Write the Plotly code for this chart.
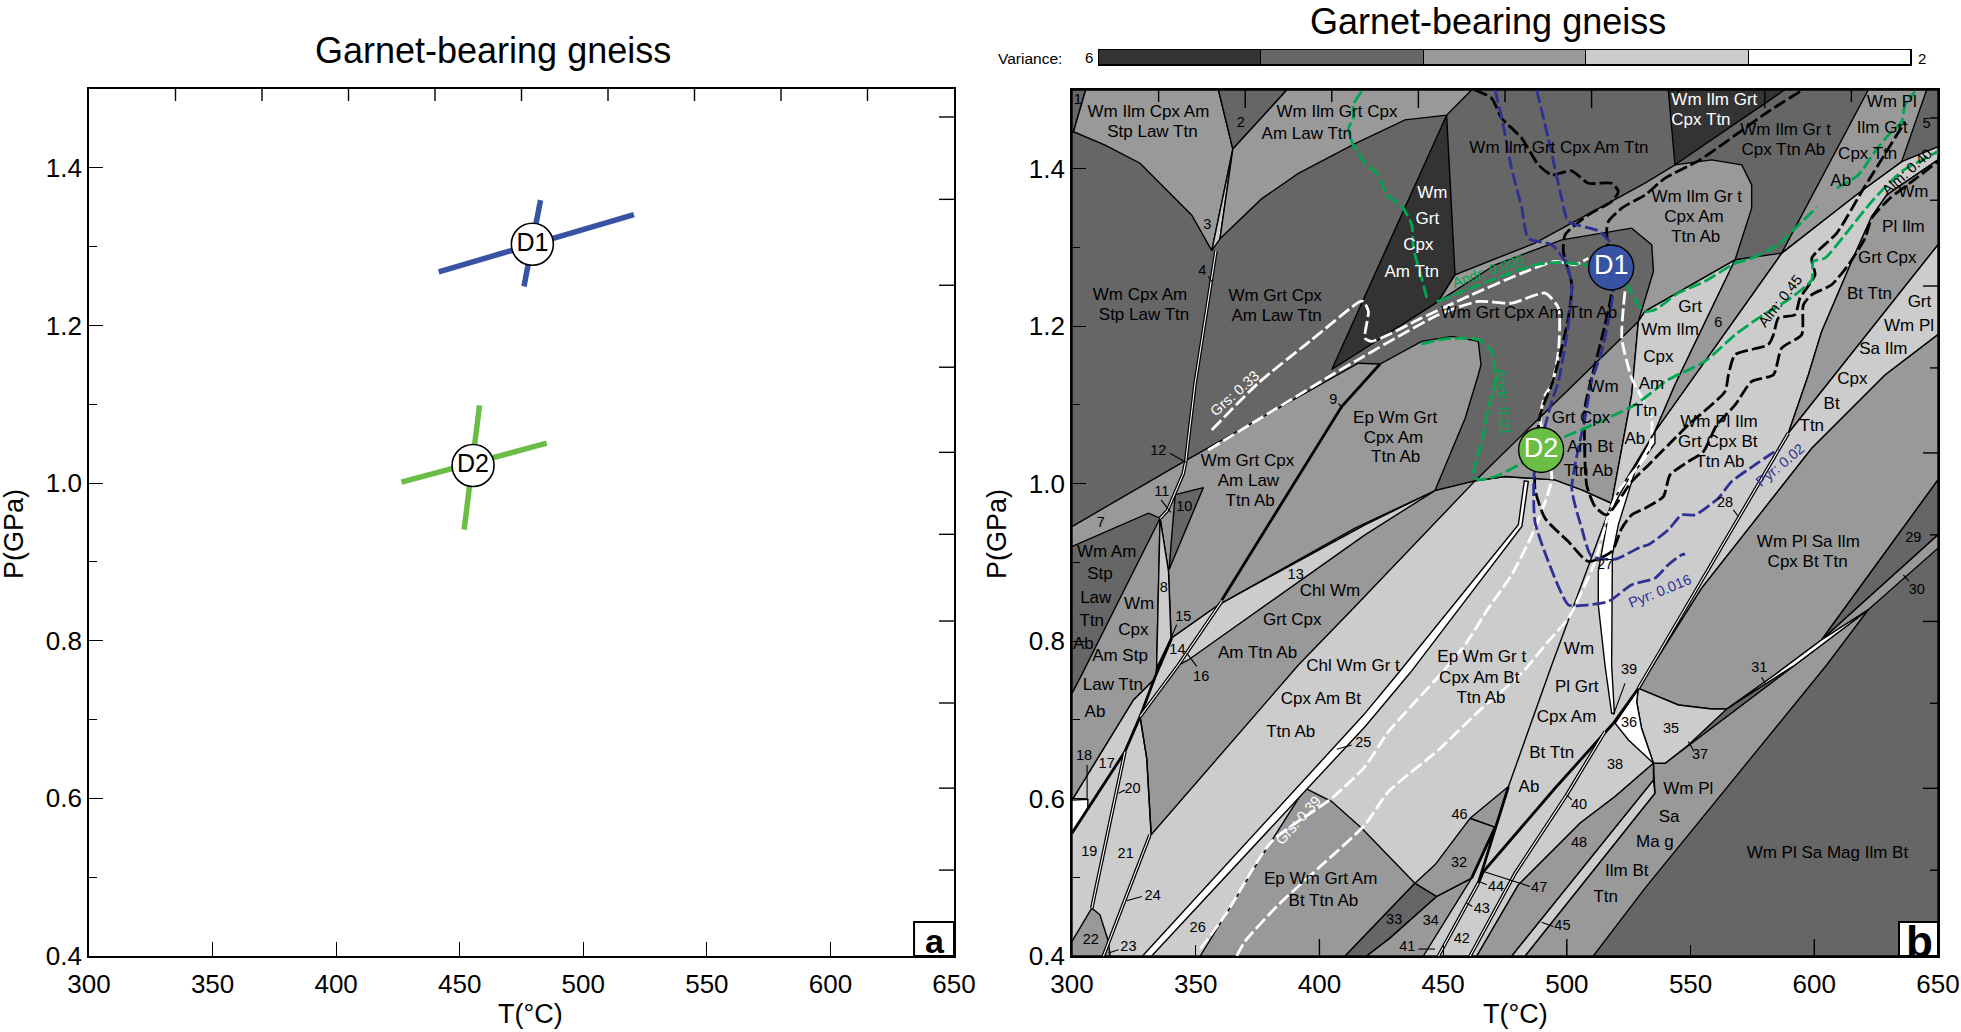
import plotly.graph_objects as go

W, H = 1961, 1032
FONT = "Liberation Sans"
C2, C3, C4, C5, C6 = "#ffffff", "#cccccc", "#999999", "#666666", "#333333"
BLUE, GREEN = "#3953a4", "#6abd45"
DBLUE, DGREEN = "#2e3192", "#00a651"

# ---------- panel a: error crosses ----------
d1_h_T = [441.5, 520.5]; d1_h_P = [1.268, 1.3406]
d1_v_T = [476.0, 482.7]; d1_v_P = [1.2496, 1.359]
d2_h_T = [426.4, 485.2]; d2_h_P = [1.0012, 1.0506]
d2_v_T = [451.8, 458.0]; d2_v_P = [0.941, 1.0985]
peak_names = ["D1", "D2"]
peak_a_T = [479.4, 455.4]; peak_a_P = [1.303, 1.0223]
peak_b_T = [517.9, 489.6]; peak_b_P = [1.2746, 1.0428]

# ---------- variance bar ----------
variance = [6, 5, 4, 3, 2]
variance_colors = [C6, C5, C4, C3, C2]

# ---------- panel b: stability fields ----------
base_T = [300, 650, 650, 300]; base_P = [0.4, 0.4, 1.5, 1.5]
mass_T = [300, 324.8, 333.6, 334.2, 340, 359.2, 418.4, 446.7, 462.9, 475, 495.2, 506, 518.1, 535, 549.1, 586.8, 617.8, 635.3, 650, 650, 629.3, 623.2, 615.1, 603, 597.6, 589.5, 528.9, 535, 519.5, 505.3, 480.4, 463.6, 300]
mass_P = [0.598, 0.7252, 0.7527, 0.7658, 0.8038, 0.8461, 0.9477, 0.9912, 1.0035, 1.009, 1.0048, 0.992, 0.9751, 1.064, 1.1257, 1.2928, 1.3689, 1.409, 1.428, 1.4112, 1.3668, 1.3393, 1.2822, 1.1934, 1.138, 1.064, 0.74, 0.6448, 0.6025, 0.5687, 0.4904, 0.4, 0.4]
f1_T = [300, 305.5, 300.6, 300]; f1_P = [1.5, 1.5, 1.447, 1.447]
wicast_T = [305.5, 359.2, 365, 356.5, 348.4, 339, 327.5, 313.4, 300.6]
wicast_P = [1.5, 1.5, 1.425, 1.296, 1.341, 1.371, 1.407, 1.43, 1.447]
f2_T = [359.2, 386.8, 365]; f2_P = [1.5, 1.5, 1.425]
f3_T = [365, 359.8, 356.5]; f3_P = [1.425, 1.311, 1.296]
wigcal_T = [365, 386.8, 461.5, 451.4, 434.6, 414.4, 391.5, 376.7, 359.8]
wigcal_P = [1.425, 1.5, 1.5, 1.468, 1.462, 1.432, 1.394, 1.362, 1.311]
dark_T = [451.4, 454.8, 448.1, 414.4, 405]
dark_P = [1.468, 1.2653, 1.2315, 1.164, 1.145]
darktop_T = [541, 588, 543.7]; darktop_P = [1.5, 1.5, 1.4049]
lobe_T = [448.1, 454.8, 487.1, 531.6, 543.7, 558.5, 570.7, 574.7, 574.7, 568, 531.6, 528.9, 535, 534.3, 526.2, 497.9, 471]
lobe_P = [1.2315, 1.2653, 1.3055, 1.3816, 1.4049, 1.4112, 1.4049, 1.3795, 1.35, 1.2843, 1.2188, 1.2061, 1.2695, 1.3034, 1.3245, 1.3097, 1.278]
wgmid_T = [462.9, 528.9, 526.2, 518.1, 506, 495.2, 475]
wgmid_P = [1.0035, 1.2061, 1.1126, 0.9751, 0.992, 1.0048, 1.009]
gwi_T = [568, 543.7, 535.6, 518.1, 526.2, 528.9, 531.6]
gwi_P = [1.2843, 1.1257, 1.0661, 0.9751, 1.1126, 1.2061, 1.2188]
f6_T = [568, 586.8, 549.1, 535.6, 543.7]; f6_P = [1.2843, 1.2928, 1.1257, 1.0661, 1.1257]
wmpl_T = [621.8, 645.4, 635.3, 617.8, 586.8]; wmpl_P = [1.5, 1.5, 1.409, 1.3689, 1.2928]
rb_T = [629.3, 650, 650, 605, 589.5, 597.6, 603, 615.1, 623.2]
rb_P = [1.3668, 1.4112, 1.3034, 1.1257, 1.064, 1.138, 1.1934, 1.2822, 1.3393]
gwps_T = [650, 650, 628.6, 599, 554.5, 528.9, 589.5, 605]
gwps_P = [1.3034, 1.1892, 1.138, 1.0449, 0.8673, 0.74, 1.064, 1.1257]
wpsi_T = [650, 628.6, 599, 554.5, 528.9, 545.1, 558.5, 564.6, 584.1, 603, 650]
wpsi_P = [1.1892, 1.138, 1.0449, 0.8673, 0.74, 0.7188, 0.7138, 0.7138, 0.7573, 0.8017, 1.0048]
f29_T = [650, 650, 603]; f29_P = [1.0048, 0.935, 0.8017]
f30_T = [650, 650, 621.8, 603]; f30_P = [0.935, 0.918, 0.8398, 0.8017]
wpsm_T = [535, 535.6, 483.1, 510.7, 531.6, 605, 621.8, 592.2, 549.1, 539.7]
wpsm_P = [0.6448, 0.6067, 0.4, 0.4, 0.4862, 0.7696, 0.8398, 0.7696, 0.6681, 0.6448]
f45_T = [535, 535.6, 483.1, 477.7]; f45_P = [0.6237, 0.6067, 0.4, 0.4]
f48_T = [535, 535, 477.7, 463.6, 480.4, 505.3, 519.5]
f48_P = [0.6448, 0.6237, 0.4, 0.4, 0.4904, 0.5687, 0.6025]
f35_T = [528.9, 545.1, 558.5, 564.6, 549.1, 539.7, 535, 530.2, 528.2]
f35_P = [0.74, 0.7188, 0.7138, 0.7138, 0.6681, 0.6448, 0.6448, 0.6892, 0.723]
f36_T = [528.9, 528.2, 530.2, 535, 524.9, 519.5]
f36_P = [0.74, 0.723, 0.6892, 0.6448, 0.6744, 0.6956]
f31_T = [603, 621.8, 592.2, 564.6, 584.1]; f31_P = [0.8017, 0.8398, 0.7696, 0.7138, 0.7573]
f27_T = [535.6, 529.6, 516.8, 512.7, 512.7, 515.4, 518.1, 519.2, 518.1, 518.4, 520.8, 527.5, 535.6]
f27_P = [1.0661, 1.0323, 0.9603, 0.8884, 0.8461, 0.7696, 0.7083, 0.7083, 0.7696, 0.9096, 0.9477, 1.0153, 1.0513]
ewg_T = [300, 345.7, 415.7, 424.5, 441.3, 453.5, 464.2, 465.3, 464.2, 458.9, 446.7, 414.4, 359.2, 340.1, 339, 335.6, 330.9, 300]
ewg_P = [0.9455, 1.029, 1.153, 1.1519, 1.1807, 1.187, 1.1807, 1.1511, 1.138, 1.083, 0.9912, 0.9434, 0.8461, 0.8038, 0.8884, 0.9561, 0.9625, 0.9202]
wcas_T = [335.6, 334.2, 333.6, 324.8, 300, 300, 303.9]
wcas_P = [0.9561, 0.7658, 0.7527, 0.7252, 0.598, 0.7336, 0.757]
f8_T = [335.6, 339, 340, 334.2]; f8_P = [0.9561, 0.8884, 0.8038, 0.7658]
f10_T = [341.7, 353.1, 339.2]; f10_P = [0.986, 0.995, 0.8905]
f18_T = [300, 306.4, 306.4, 300]; f18_P = [0.598, 0.5991, 0.5877, 0.556]
f22_T = [308, 311.3, 314.7, 315.4, 300, 300]; f22_P = [0.4608, 0.4523, 0.4185, 0.4, 0.4, 0.4185]
band_T = [446.7, 462.9, 414.4, 391.5, 332, 330.2, 327.5, 343, 347, 418.4]
band_P = [0.9912, 1.0035, 0.844, 0.7696, 0.554, 0.6512, 0.704, 0.7696, 0.776, 0.935]
ewga_T = [394.2, 405, 417.1, 438.6, 410.4, 351.8, 364.6, 375.3]
ewga_P = [0.6131, 0.5962, 0.5623, 0.4925, 0.4, 0.4, 0.4651, 0.52]
f33_T = [438.6, 447.4, 428.5, 419.1, 410.4]; f33_P = [0.4925, 0.4756, 0.4227, 0.4, 0.4]
f34_T = [447.4, 461.5, 442, 419.1, 428.5]; f34_P = [0.4756, 0.4989, 0.4, 0.4, 0.4227]
f32_T = [438.6, 446.7, 460.9, 471, 461.5, 447.4]; f32_P = [0.4925, 0.5158, 0.575, 0.5636, 0.4989, 0.4756]
f46_T = [460.9, 476.4, 471]; f46_P = [0.575, 0.6152, 0.5636]
f25_T = [328.5, 417.8, 431.9, 480.4, 482.8, 484.4, 481.8, 436.6, 418.4, 332.2]
f25_P = [0.4, 0.706, 0.7594, 0.9477, 1.0035, 1.0026, 0.9455, 0.7594, 0.6913, 0.4]

# ---------- panel b: reaction lines ----------
line_a_T = [518.1, 493.9, 476.4]; line_a_P = [0.9751, 0.7696, 0.6152]
line_b_T = [327.5, 330.2, 332]; line_b_P = [0.704, 0.6512, 0.5539]
thick1_T = [300, 321.4, 327.5, 333.6, 340.3]; thick1_P = [0.556, 0.6596, 0.704, 0.7548, 0.8038]
thick2_T = [424.5, 409, 360.5]; thick2_P = [1.1519, 1.098, 0.852]
thick3_T = [528.9, 518.8, 495.2, 466.3, 464.2]; thick3_P = [0.74, 0.6956, 0.6131, 0.5073, 0.4925]
thick4_T = [476.4, 464.2]; thick4_P = [0.6152, 0.4925]
thick5_T = [471, 461.5]; thick5_P = [0.5636, 0.4989]
dbl1_T = [331.5, 312.7]; dbl1_P = [0.5539, 0.4]
dbl2_T = [321.4, 318.1, 313.4, 308]; dbl2_P = [0.6596, 0.6089, 0.5412, 0.4608]
dbl3_T = [515.4, 499.9, 479.1, 460.9]; dbl3_P = [0.685, 0.6046, 0.5052, 0.4]
dbl4_T = [589.5, 528.9]; dbl4_P = [1.064, 0.74]
dbl5_T = [360.5, 343, 327.5]; dbl5_P = [0.8504, 0.7696, 0.704]
dbl6_T = [464.2, 448.1]; dbl6_P = [0.4925, 0.4]
dbl7_T = [346, 345, 338.6, 335.6]; dbl7_P = [1.029, 1.013, 0.966, 0.956]
dbl8_T = [358.2, 349.7, 346]; dbl8_P = [1.296, 1.126, 1.029]
leader_T = [355.1, 356.5, None, 339.6, 346, None, 336, 340, None, 407.7, 409.3, None, 342.3, 340, None, 346.4, 350.4, None, 306.1, 306.1, None, 321.4, 318.8, None, 318.8, 314.7, None, 328.2, 322.1, None, 413, 407, None, 567.3, 569.3, None, 636, 638.3, None, 578.7, 580.4, None, 549.1, 551.1, None, 499.9, 502, None, 440, 446.7, None, 459.5, 461.8, None, 464.5, 467.6, None, 489.8, 494.5, None, 466.3, 485.1, None, 523.5, 518.8]
leader_P = [1.2632, 1.2568, None, 1.0386, 1.0272, None, 0.9794, 0.9633, None, 1.102, 1.0957, None, 0.8208, 0.8038, None, 0.7848, 0.7679, None, 0.6427, 0.5991, None, 0.611, 0.6067, None, 0.408, 0.4037, None, 0.4756, 0.4701, None, 0.6681, 0.6626, None, 0.9667, 0.9582, None, 0.8842, 0.8757, None, 0.754, 0.7451, None, 0.6723, 0.6617, None, 0.6046, 0.5983, None, 0.4088, 0.4088, None, 0.4672, 0.4629, None, 0.4946, 0.4904, None, 0.443, 0.4375, None, 0.5073, 0.4883, None, 0.7463, 0.7061]

# ---------- panel b: isopleths ----------
g_up_T = [417, 413.7, 413.7, 411.7, 413.7, 418.4, 423.8, 427.2, 433.3, 437.3, 438, 441.3, 443.4]
g_up_P = [1.498, 1.481, 1.464, 1.451, 1.43, 1.407, 1.392, 1.367, 1.352, 1.329, 1.299, 1.261, 1.236]
g_an_T = [447.4, 468.3, 487.1, 496.6, 507.3, 518.1, 524.2, 528.9, 531.6, 535.6, 545, 555.8, 568, 574.7, 585.5, 590.9, 601]
g_an_P = [1.231, 1.257, 1.278, 1.281, 1.278, 1.276, 1.2526, 1.2272, 1.2188, 1.2209, 1.242, 1.257, 1.28, 1.2864, 1.3034, 1.32, 1.351]
g_alm_T = [441.3, 450.8, 464.2, 469.6, 471, 468.3, 465.6, 462.2, 464.2, 471, 481.8, 489.6, 497.9, 508.7, 527.5, 535.6, 539.7, 555.8, 568, 577.4, 589.5, 599, 599.6, 604.3, 612.4, 623.2, 635.3, 650]
g_alm_P = [1.1773, 1.184, 1.1828, 1.168, 1.13, 1.0957, 1.0534, 1.0111, 1.0048, 1.009, 1.0259, 1.0428, 1.0576, 1.0724, 1.0999, 1.119, 1.1299, 1.1553, 1.1891, 1.2103, 1.2336, 1.2589, 1.2822, 1.2864, 1.316, 1.3583, 1.3964, 1.4218]
g_ab_T = [609.1, 617.8, 624.5, 630, 635.3, 636.7, 640.7]
g_ab_P = [1.3753, 1.3922, 1.4218, 1.443, 1.4599, 1.481, 1.498]
w_33_T = [356.5, 375.3, 396.9, 416.4, 417.8, 419.8, 418.4, 421.1, 441.3, 461.5, 481.8, 495.2, 503.3, 508.7]
w_33_P = [1.0682, 1.1278, 1.1828, 1.2314, 1.2315, 1.2188, 1.1849, 1.1807, 1.2103, 1.2399, 1.2674, 1.2822, 1.278, 1.2864]
w_39_T = [355.1, 405, 414.4, 448.1, 464.2, 477.7, 491.2, 496.6, 496.6, 493.9, 491.2, 489.2, 493.9, 486.5, 477.7, 468.3, 458.9, 448.8, 427.9, 418.4, 405, 380.7, 362, 351.1]
w_39_P = [1.0428, 1.138, 1.1553, 1.2145, 1.2314, 1.2293, 1.242, 1.223, 1.168, 1.1257, 1.1126, 1.083, 1.0069, 0.9392, 0.8842, 0.8419, 0.7954, 0.7573, 0.685, 0.6406, 0.6004, 0.5454, 0.4523, 0.4058]
w_lo_T = [523.5, 522.2, 526.2, 534.3, 532.9, 520.8, 516.8, 511.4, 500.6, 492.5, 481.8, 464.2, 448.1, 427.9, 418.4, 399.6, 383.4, 369.9, 366.6]
w_lo_P = [1.2441, 1.185, 1.134, 1.083, 1.0407, 0.99, 0.9603, 0.9011, 0.8292, 0.7996, 0.7594, 0.7104, 0.6617, 0.6089, 0.5666, 0.5116, 0.465, 0.4185, 0.4]
k_up_T = [462.9, 469.6, 473.7, 481.8, 488.5, 493.9, 501.9, 508.7, 518.1, 520.8, 518.1, 508.7, 499.3, 498.6, 502, 500.6, 496.6, 493.9, 489.2, 487.1, 491.2, 500.6, 508.7, 518.1, 522.2, 526.2, 531.6, 539, 541.7, 549.1, 555.2, 560.6, 568, 574.7, 583.5, 586.8, 594.9, 595.6, 599, 607, 613.8, 620.5, 623.2, 630.6, 639.4, 650]
k_up_P = [1.5, 1.4895, 1.4641, 1.4387, 1.4049, 1.3922, 1.3973, 1.3816, 1.3816, 1.371, 1.3584, 1.3414, 1.316, 1.2949, 1.2526, 1.2103, 1.1553, 1.1257, 1.0872, 0.9942, 0.9561, 0.9265, 0.9011, 0.9138, 0.9434, 0.9603, 0.9688, 0.9836, 1.0111, 1.028, 1.0407, 1.0746, 1.0999, 1.1299, 1.1384, 1.1722, 1.1891, 1.2272, 1.24, 1.2526, 1.278, 1.3118, 1.3372, 1.3626, 1.3837, 1.4091]
k_lo_T = [594.2, 581.4, 553.8, 539.7, 531.6, 522.2, 516.8, 516.1, 518.1, 514.1, 510, 507.3, 508, 511.4, 516.1, 526.2, 533, 541, 549.1, 563.9, 565.3, 568, 581.4, 583.5, 585.5, 592.2, 594.2, 600.3, 599, 609.1, 619.2, 636.7]
k_lo_P = [1.498, 1.4726, 1.4112, 1.388, 1.3668, 1.35, 1.333, 1.3224, 1.2441, 1.1849, 1.1342, 1.0957, 0.9984, 0.9709, 0.9603, 1.0026, 1.0238, 1.0492, 1.0746, 1.1169, 1.138, 1.1638, 1.1765, 1.1891, 1.2103, 1.2145, 1.2357, 1.2653, 1.2864, 1.3182, 1.371, 1.4599]
b_016_T = [471, 473.7, 477.7, 481.8, 484.4, 493.9, 499.3, 502, 500.6, 496.6, 493.9, 486.9, 487.1, 492.5, 500.6, 506, 516.8, 526.2, 535.6, 541, 546.4, 547.8]
b_016_P = [1.5, 1.4641, 1.4, 1.3499, 1.3118, 1.3034, 1.2822, 1.2526, 1.2018, 1.13, 1.1042, 1.0153, 0.9519, 0.9011, 0.8461, 0.8453, 0.8504, 0.8715, 0.88, 0.8969, 0.9096, 0.9104]
b_02_T = [487.8, 492.5, 497.9, 500.6, 512.7, 518.1, 518.8, 514.1, 510, 507.3, 502, 506, 510, 519.5, 530.2, 532.9, 541, 546.4, 551.8, 561.2, 566.6, 576, 585.5]
b_02_P = [1.5, 1.4387, 1.3626, 1.333, 1.3211, 1.3034, 1.2441, 1.168, 1.13, 1.083, 0.9942, 0.9434, 0.9075, 0.9041, 0.9202, 0.9223, 0.9413, 0.9603, 0.9603, 0.9815, 1.0026, 1.0238, 1.0441]

# ---------- text ----------
black_labels = ["Wm Ilm Cpx Am", "Stp Law Ttn", "Wm Ilm Grt Cpx", "Am Law Ttn", "Wm Cpx Am", "Stp Law Ttn", "Wm Grt Cpx", "Am Law Ttn", "Wm Ilm Grt Cpx Am Ttn", "Wm Grt Cpx Am Ttn Ab", "Wm Ilm Gr t", "Cpx Ttn Ab", "Wm Ilm Gr t", "Cpx Am", "Ttn Ab", "Wm Pl", "Ilm Grt", "Cpx Ttn", "Ab", "Wm", "Pl Ilm", "Grt Cpx", "Bt Ttn", "Grt", "Wm Pl", "Sa Ilm", "Cpx", "Bt", "Ttn", "Grt", "Wm Ilm", "Cpx", "Am", "Ttn", "Ab", "Wm", "Grt Cpx", "Am Bt", "Ttn Ab", "Ep Wm Grt", "Cpx Am", "Ttn Ab", "Wm Grt Cpx", "Am Law", "Ttn Ab", "Wm Am", "Stp", "Law", "Ttn", "Ab", "Wm", "Cpx", "Am Stp", "Law Ttn", "Ab", "Chl Wm", "Grt Cpx", "Am Ttn Ab", "Chl Wm Gr t", "Cpx Am Bt", "Ttn Ab", "Ep Wm Gr t", "Cpx Am Bt", "Ttn Ab", "Wm", "Pl Grt", "Cpx Am", "Bt Ttn", "Ab", "Wm Pl Ilm", "Grt Cpx Bt", "Ttn Ab", "Wm Pl Sa Ilm", "Cpx Bt Ttn", "Wm Pl Sa Mag Ilm Bt", "Wm Pl", "Sa", "Ma g", "Ilm Bt", "Ttn", "Ep Wm Grt Am", "Bt Ttn Ab"]
black_T = [330.9, 332.5, 407.1, 394.9, 327.5, 329.1, 382.1, 382.7, 496.8, 484.7, 588.4, 587.5, 552.5, 551.4, 552.1, 631.3, 627.5, 621.6, 610.7, 640, 636, 629.5, 622.3, 642.5, 638.3, 627.9, 615.4, 607, 599, 549.8, 541.7, 537, 534.2, 531.6, 527.5, 514.8, 505.7, 509.4, 508.7, 430.6, 429.9, 430.8, 370.9, 371.3, 372, 314, 311.3, 309.6, 308, 304.6, 327.1, 324.8, 319.4, 316.5, 309.3, 404.3, 389, 375, 413.6, 400.6, 388.4, 465.6, 464.6, 465.3, 504.9, 504, 499.9, 493.9, 484.7, 561.5, 561, 561.9, 597.6, 597.3, 605.3, 549.1, 541.3, 535.6, 524.2, 515.7, 400.5, 401.6]
black_P = [1.4717, 1.4459, 1.4717, 1.443, 1.239, 1.2137, 1.2378, 1.2116, 1.426, 1.2154, 1.448, 1.4226, 1.3626, 1.3372, 1.3118, 1.4844, 1.4506, 1.4176, 1.3837, 1.3689, 1.3254, 1.2856, 1.2399, 1.2293, 1.1989, 1.1701, 1.1317, 1.1008, 1.0724, 1.223, 1.1942, 1.1604, 1.1253, 1.0915, 1.0555, 1.1219, 1.083, 1.0462, 1.0145, 1.083, 1.0576, 1.0323, 1.028, 1.0026, 0.9773, 0.9117, 0.8842, 0.8537, 0.8241, 0.7954, 0.8461, 0.8136, 0.7797, 0.7434, 0.7091, 0.8622, 0.8258, 0.7835, 0.768, 0.726, 0.6837, 0.7785, 0.7527, 0.7273, 0.789, 0.7413, 0.7028, 0.6575, 0.6139, 1.0779, 1.0521, 1.0268, 0.9244, 0.899, 0.5293, 0.611, 0.5759, 0.5433, 0.5073, 0.4735, 0.4968, 0.4693]
white_labels = ["Wm", "Grt", "Cpx", "Am Ttn", "Wm Ilm Grt", "Cpx Ttn"]
white_T = [445.6, 443.6, 440, 437.3, 559.6, 554.2]
white_P = [1.3677, 1.335, 1.3025, 1.2674, 1.4865, 1.4611]
num_labels = ["1", "2", "3", "4", "5", "6", "7", "8", "9", "10", "11", "12", "13", "14", "15", "16", "17", "18", "19", "20", "21", "22", "23", "24", "25", "26", "27", "28", "29", "30", "31", "32", "33", "34", "35", "36", "37", "38", "39", "40", "41", "42", "43", "44", "45", "46", "47", "48"]
num_T = [302.3, 368.2, 354.7, 352.7, 645.4, 561.2, 311.6, 337.1, 405.6, 345.4, 336.3, 334.9, 390.4, 342.6, 345, 352.2, 314, 304.9, 307, 324.5, 321.7, 307.6, 322.8, 332.6, 417.7, 350.8, 515.4, 563.9, 640, 641.4, 577.8, 456.4, 430.2, 445, 542.1, 525.1, 553.8, 519.5, 525.1, 504.9, 435.5, 457.5, 465.6, 471.4, 498.2, 456.6, 488.8, 504.9]
num_P = [1.4874, 1.4578, 1.3279, 1.2695, 1.4565, 1.204, 0.9498, 0.8673, 1.1063, 0.9696, 0.9887, 1.0416, 0.8834, 0.7882, 0.8301, 0.7535, 0.6435, 0.6533, 0.5314, 0.6122, 0.5285, 0.4198, 0.4109, 0.4756, 0.6698, 0.4354, 0.8956, 0.9751, 0.9307, 0.8643, 0.7649, 0.5175, 0.4452, 0.4439, 0.688, 0.6956, 0.6554, 0.6427, 0.7633, 0.5911, 0.4109, 0.4206, 0.4587, 0.4875, 0.4375, 0.5792, 0.4853, 0.5433]
iso_labels = ["Grs: 0.33", "Andr: 0.005", "Andr: 0.01", "Grs: 0.39", "Alm: 0.45", "Alm: 0.40", "Pyr: 0.02", "Pyr: 0.016"]
iso_T = [365.9, 468.3, 474.3, 391.5, 586.2, 637.3, 586.2, 537.7]
iso_P = [1.1147, 1.2695, 1.104, 0.573, 1.2314, 1.3964, 1.0238, 0.863]
iso_angle = [-42, -19, 85, -48, -52, -42, -40, -22]
iso_color = ["#ffffff", DGREEN, DGREEN, "#ffffff", "#000000", "#000000", DBLUE, DBLUE]

# ---------- ticks ----------
xlabels = [300, 350, 400, 450, 500, 550, 600, 650]
ylabels = [0.4, 0.6, 0.8, 1.0, 1.2, 1.4]
top_short = [335, 405, 475, 545, 615]
top_long = [370, 440, 510, 580]
right_short = [1.4645, 1.36, 1.147, 0.935, 0.721, 0.509]
right_long = [1.251, 1.039, 0.825, 0.613]
bottom_long = [400, 500, 600]

TPX = 350 / 866
PPX = 1.1 / 866


def xdom(a, b):
    return [a / W, b / W]


def ydom(top, bot):
    return [1 - bot / H, 1 - top / H]


fig = go.Figure()


def poly(T, P, color, lw=1.4):
    fig.add_trace(go.Scatter(x=T + T[:1], y=P + P[:1], mode="lines", fill="toself", fillcolor=color,
                             line=dict(color="#000000", width=lw), xaxis="x2", yaxis="y2",
                             hoverinfo="skip", showlegend=False))


def line(T, P, color="#000000", lw=1.4, dash=None, spline=False, ax=2):
    ln = dict(color=color, width=lw)
    if dash:
        ln["dash"] = dash
    if spline:
        ln["shape"] = "spline"
        ln["smoothing"] = 0.6
    fig.add_trace(go.Scatter(x=T, y=P, mode="lines", line=ln, xaxis="x%d" % ax if ax > 1 else "x",
                             yaxis="y%d" % ax if ax > 1 else "y", hoverinfo="skip", showlegend=False,
                             connectgaps=False))


def ticks(ax, top_s, top_l, r_s, r_l, ts, tl, rs, rl):
    tx, ty = [], []
    for v, n in [(v, ts) for v in top_s] + [(v, tl) for v in top_l]:
        tx += [v, v, None]
        ty += [1.5, 1.5 - n * PPX, None]
    for v, n in [(v, rs) for v in r_s] + [(v, rl) for v in r_l]:
        tx += [650, 650 - n * TPX, None]
        ty += [v, v, None]
    line(tx, ty, lw=1.4, ax=ax)


# ----- panel a
line(d1_h_T, d1_h_P, BLUE, 5.5, ax=1)
line(d1_v_T, d1_v_P, BLUE, 5.5, ax=1)
line(d2_h_T, d2_h_P, GREEN, 5.5, ax=1)
line(d2_v_T, d2_v_P, GREEN, 5.5, ax=1)
ticks(1, top_short + top_long, [], right_short + right_long, [], 12, 12, 15, 15)
fig.add_trace(go.Scatter(x=peak_a_T, y=peak_a_P, mode="markers+text", text=peak_names, textposition="middle center",
                         marker=dict(size=42, color="#ffffff", line=dict(color="#000000", width=1.6)),
                         textfont=dict(family=FONT, size=25, color="#000000"), xaxis="x", yaxis="y",
                         hoverinfo="skip", showlegend=False))

# ----- panel b fields
poly(base_T, base_P, C5)
for T, P, c in [
    (mass_T, mass_P, C3), (f1_T, f1_P, C5), (wicast_T, wicast_P, C4), (f2_T, f2_P, C5), (f3_T, f3_P, C3),
    (wigcal_T, wigcal_P, C4), (dark_T, dark_P, C6), (darktop_T, darktop_P, C6), (lobe_T, lobe_P, C4),
    (wgmid_T, wgmid_P, C4), (gwi_T, gwi_P, C3), (f6_T, f6_P, C4), (wmpl_T, wmpl_P, C4), (rb_T, rb_P, C4),
    (gwps_T, gwps_P, C3), (wpsi_T, wpsi_P, C4), (f29_T, f29_P, C5), (f30_T, f30_P, C4), (wpsm_T, wpsm_P, C4),
    (f45_T, f45_P, C3), (f48_T, f48_P, C4), (f35_T, f35_P, C3), (f36_T, f36_P, C2), (f31_T, f31_P, C2),
    (f27_T, f27_P, C2), (ewg_T, ewg_P, C4), (wcas_T, wcas_P, C4), (f8_T, f8_P, C3), (f10_T, f10_P, C5),
    (f18_T, f18_P, C2), (f22_T, f22_P, C4), (band_T, band_P, C4), (ewga_T, ewga_P, C4), (f33_T, f33_P, C5),
    (f34_T, f34_P, C4), (f32_T, f32_P, C4), (f46_T, f46_P, C4), (f25_T, f25_P, C2),
]:
    poly(T, P, c)

for T, P in [(line_a_T, line_a_P), (line_b_T, line_b_P)]:
    line(T, P)
for T, P in [(thick1_T, thick1_P), (thick2_T, thick2_P), (thick3_T, thick3_P), (thick4_T, thick4_P), (thick5_T, thick5_P)]:
    line(T, P, lw=2.8)
for T, P in [(dbl1_T, dbl1_P), (dbl2_T, dbl2_P), (dbl3_T, dbl3_P), (dbl4_T, dbl4_P), (dbl5_T, dbl5_P),
             (dbl6_T, dbl6_P), (dbl7_T, dbl7_P), (dbl8_T, dbl8_P)]:
    line(T, P, lw=3.6)
    line(T, P, color=C2, lw=1.1)
line(leader_T, leader_P, lw=1.1)

# ----- isopleths
DASH = "13px,4px"
for T, P in [(w_33_T, w_33_P), (w_39_T, w_39_P), (w_lo_T, w_lo_P)]:
    line(T, P, "#ffffff", 2.8, DASH, True)
for T, P in [(k_up_T, k_up_P), (k_lo_T, k_lo_P)]:
    line(T, P, "#000000", 2.8, DASH, True)
for T, P in [(b_016_T, b_016_P), (b_02_T, b_02_P)]:
    line(T, P, DBLUE, 2.8, DASH, True)
for T, P in [(g_up_T, g_up_P), (g_an_T, g_an_P), (g_alm_T, g_alm_P), (g_ab_T, g_ab_P)]:
    line(T, P, DGREEN, 2.8, DASH, True)

# ----- panel b ticks
ticks(2, top_short, top_long, right_short, right_long, 12, 18, 8, 15)
ltx, lty = [], []
for v in bottom_long:
    ltx += [v, v, None]
    lty += [0.4, 0.4 + 17 * PPX, None]
line(ltx, lty, lw=1.4)

# ----- field text
for txt, T, P, c, s in [(black_labels, black_T, black_P, "#000000", 17), (white_labels, white_T, white_P, "#ffffff", 17),
                        (num_labels, num_T, num_P, "#000000", 14.5)]:
    fig.add_trace(go.Scatter(x=T, y=P, mode="text", text=txt, textposition="middle center",
                             textfont=dict(family=FONT, size=s, color=c), xaxis="x2", yaxis="y2",
                             hoverinfo="skip", showlegend=False))

fig.add_trace(go.Scatter(x=peak_b_T[:1], y=peak_b_P[:1], mode="markers+text", text=peak_names[:1], textposition="middle center",
                         marker=dict(size=45, color=BLUE, line=dict(color="#000000", width=1.4)),
                         textfont=dict(family=FONT, size=27, color="#ffffff"), xaxis="x2", yaxis="y2",
                         hoverinfo="skip", showlegend=False))
fig.add_trace(go.Scatter(x=peak_b_T[1:], y=peak_b_P[1:], mode="markers+text", text=peak_names[1:], textposition="middle center",
                         marker=dict(size=45, color=GREEN, line=dict(color="#000000", width=1.4)),
                         textfont=dict(family=FONT, size=27, color="#ffffff"), xaxis="x2", yaxis="y2",
                         hoverinfo="skip", showlegend=False))

# ----- variance bar
fig.add_trace(go.Bar(x=[1] * len(variance), y=[0] * len(variance), base=list(range(len(variance))), width=1, orientation="h",
                     marker=dict(color=variance_colors, line=dict(color="#000000", width=1)),
                     xaxis="x3", yaxis="y3", hoverinfo="skip", showlegend=False))

# ----- annotations
ann = []


def txt(s, x, y, size, color="#000000", angle=0, bold=False):
    ann.append(dict(text="<b>%s</b>" % s if bold else s, x=x / W, y=1 - y / H, xref="paper", yref="paper", showarrow=False,
                    font=dict(family=FONT, size=size, color=color), textangle=angle, xanchor="center", yanchor="middle"))


txt("Garnet-bearing gneiss", 493, 51, 36)
txt("Garnet-bearing gneiss", 1488, 21, 36)
txt("T(°C)", 530, 1014, 27)
txt("T(°C)", 1515, 1014, 27)
txt("P(GPa)", 14, 534, 27, angle=-90)
txt("P(GPa)", 997, 534, 27, angle=-90)
txt("Variance:", 1030, 59, 15.5)
txt("6", 1089, 58, 15)
txt("2", 1922, 59, 15)
txt("a", 935, 941, 34, bold=True)
txt("b", 1919, 941, 44, bold=True)
for s, T, P, a, c in zip(iso_labels, iso_T, iso_P, iso_angle, iso_color):
    ann.append(dict(text=s, x=T, y=P, xref="x2", yref="y2", showarrow=False, textangle=a,
                    font=dict(family=FONT, size=14.5, color=c), xanchor="center", yanchor="middle"))

axis = dict(showline=True, mirror=True, linecolor="#000000", linewidth=1.6, showgrid=False, zeroline=False, automargin=False,
            tickfont=dict(family=FONT, size=26, color="#000000"), ticks="inside", tickcolor="#000000", tickwidth=1.4)
xax = dict(axis, range=[300, 650], tickvals=xlabels, ticklabeloverflow="allow", ticklabelstandoff=4)
yax = dict(axis, range=[0.4, 1.5], tick0=0.4, dtick=0.2, tickformat=".1f", ticklen=14, ticklabeloverflow="allow",
           minor=dict(ticks="inside", dtick=0.1, tick0=0.4, ticklen=8, tickcolor="#000000", tickwidth=1.4))

bar_axis = dict(showline=True, mirror=True, linecolor="#000000", linewidth=1.4, showgrid=False, zeroline=False, automargin=False,
                showticklabels=False, ticks="")

fig.update_layout(
    width=W, height=H, autosize=False, margin=dict(l=0, r=0, t=0, b=0, pad=0),
    paper_bgcolor="#ffffff", plot_bgcolor="#ffffff", showlegend=False, barmode="overlay", bargap=0,
    xaxis=dict(xax, domain=xdom(89, 954), anchor="y", ticklen=14),
    yaxis=dict(yax, domain=ydom(89, 956), anchor="x"),
    xaxis2=dict(xax, domain=xdom(1072, 1938), anchor="y2", ticklen=11),
    yaxis2=dict(yax, domain=ydom(90, 956), anchor="x2"),
    xaxis3=dict(bar_axis, domain=xdom(1099, 1911), range=[0, len(variance)], anchor="y3"),
    yaxis3=dict(bar_axis, domain=ydom(50, 65), range=[-0.5, 0.5], anchor="x3"),
    annotations=ann,
    shapes=[
        dict(type="rect", xref="x", yref="y", x0=650 - 40 * TPX, x1=650, y0=0.4, y1=0.4 + 34 * PPX,
             fillcolor="#ffffff", line=dict(color="#000000", width=2)),
        dict(type="rect", xref="x2", yref="y2", x0=650 - 39 * TPX, x1=650, y0=0.4, y1=0.4 + 34 * PPX,
             fillcolor="#ffffff", line=dict(color="#000000", width=2)),
    ],
)

fig.write_html("out.html", config=dict(displayModeBar=False),
               post_script="document.body.style.margin='0';document.body.style.overflow='hidden';")
